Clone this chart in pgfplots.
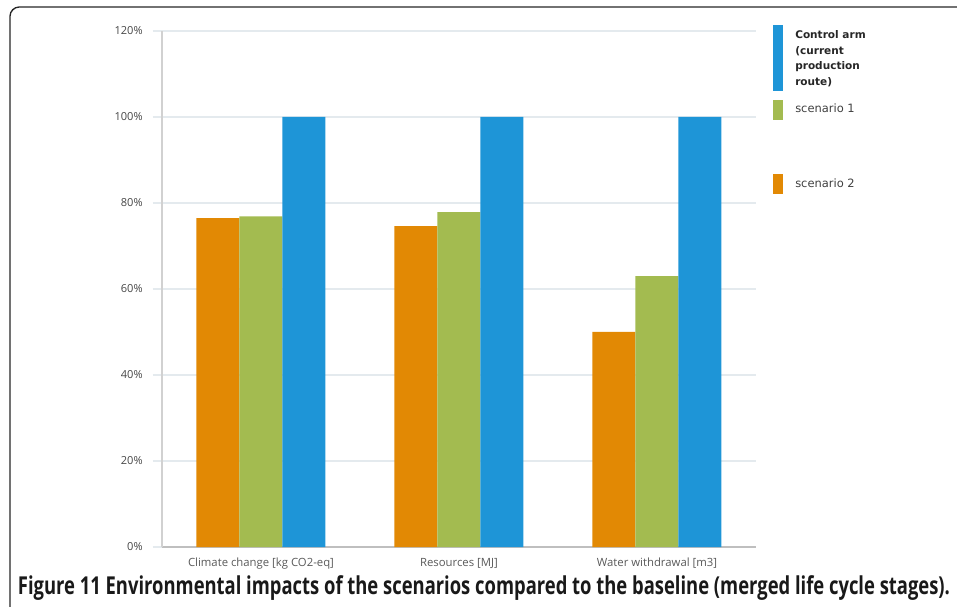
\documentclass[border=0pt]{standalone}
\usepackage{pgfplots}
\pgfplotsset{compat=1.18}
\usepackage{pgfplotstable}
\usepackage{fontspec}
\setmainfont{Open Sans}
\newfontfamily\legfont{DejaVu Sans}

\definecolor{corange}{RGB}{226,137,4}
\definecolor{cgreen}{RGB}{163,187,80}
\definecolor{cblue}{RGB}{30,149,215}
\definecolor{gridc}{RGB}{228,234,238}
\definecolor{labc}{RGB}{70,70,70}

% values in percent of the control arm
\pgfplotstableread{
x s2 s1 ctrl
0 76.5 76.9 100
1 74.6 77.9 100
2 50.0 63.0 100
}\impacts

\begin{document}
\begin{tikzpicture}
\path[use as bounding box] (-121.5pt,-45pt) rectangle (596.25pt,410.25pt);
\begin{scope}
\clip (-121.5pt,-45pt) rectangle (596.25pt,410.25pt);
\draw[line width=1pt, black!85, rounded corners=7pt] (-114pt,405pt) rectangle (700pt,-80pt);
\end{scope}

\begin{axis}[
    at={(0pt,0pt)}, anchor=south west, scale only axis,
    width=445.5pt, height=387pt,
    xmin=-0.5, xmax=2.5, ymin=0, ymax=120,
    ybar=0pt, bar width=32.25pt,
    axis x line*=bottom, axis y line*=left,
    x axis line style={draw=black!25, line width=0.9pt, -},
    y axis line style={draw=black!18, line width=0.8pt, -},
    xtick={0,1,2},
    xticklabels={Climate change [kg CO2-eq], Resources [MJ], Water withdrawal [m3]},
    xtick style={draw=none},
    ytick={0,20,...,120},
    yticklabel={\pgfmathprintnumber{\tick}\%},
    /pgf/number format/assume math mode=true,
    ymajorgrids, grid style={draw=gridc, line width=0.8pt},
    tick align=outside, major tick length=7pt,
    ytick style={draw=gridc, line width=0.8pt},
    yticklabel style={font=\fontsize{8.3}{9}\selectfont, text=labc, xshift=-4pt},
    xticklabel style={font=\fontsize{8.5}{10}\selectfont, text=black!65, yshift=2pt},
]
\addplot[fill=corange, draw=none] table[x=x, y=s2] {\impacts};
\addplot[fill=cgreen, draw=none] table[x=x, y=s1] {\impacts};
\addplot[fill=cblue, draw=none] table[x=x, y=ctrl] {\impacts};
\end{axis}

% legend
\fill[cblue] (458.25pt,342pt) rectangle (465.75pt,391.5pt);
\fill[cgreen] (458.25pt,320.25pt) rectangle (465.75pt,335.25pt);
\fill[corange] (458.25pt,264.75pt) rectangle (465.75pt,279.75pt);
\begin{scope}[every node/.style={anchor=base west, inner sep=0pt, font=\legfont\bfseries\fontsize{7.9}{9}\selectfont, text=black!85}]
\node at (474.75pt,381pt) {Control arm};
\node at (474.75pt,369pt) {(current};
\node at (474.75pt,357.75pt) {production};
\node at (474.75pt,345.75pt) {route)};
\end{scope}
\node[anchor=base west, inner sep=0pt, font=\legfont\fontsize{8.6}{9}\selectfont, text=black!75]
  at (474.75pt,325.5pt) {scenario 1};
\node[anchor=base west, inner sep=0pt, font=\legfont\fontsize{8.6}{9}\selectfont, text=black!75]
  at (474.75pt,269.25pt) {scenario 2};

% caption
\node[anchor=base, inner sep=0pt, font=\bfseries\fontsize{18.5}{20}\selectfont, text=black!90]
  at (241.5pt,-35.5pt) {\resizebox{699pt}{\height}{Figure 11 Environmental impacts of the scenarios compared to the baseline (merged life cycle stages).}};
\end{tikzpicture}
\end{document}
